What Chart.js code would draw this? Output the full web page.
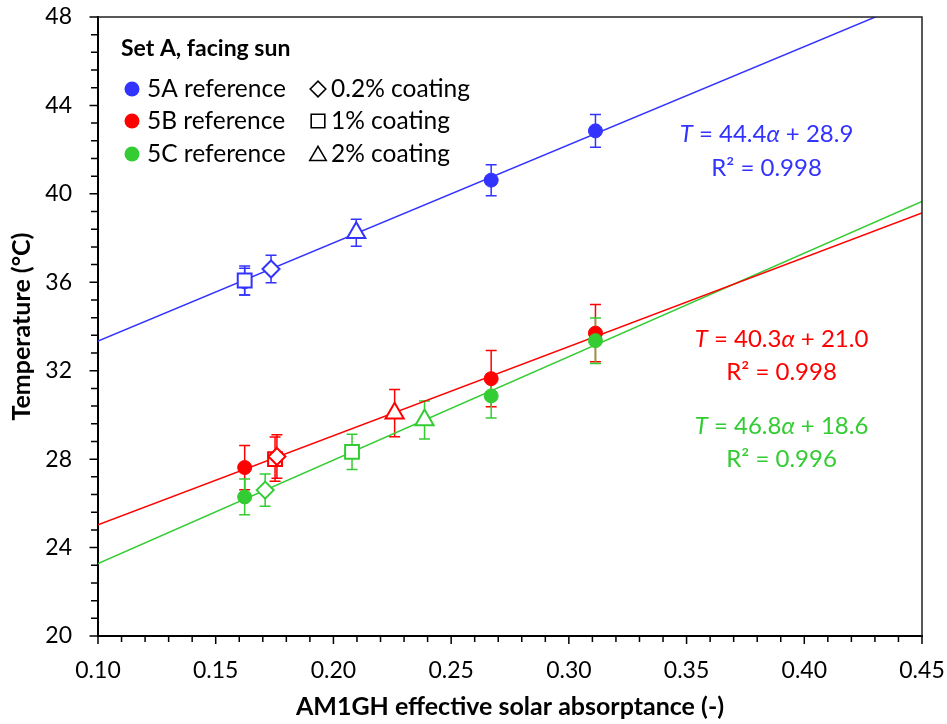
<!DOCTYPE html>
<html>
<head>
<meta charset="utf-8">
<script src="https://cdn.jsdelivr.net/npm/chart.js@4.4.1/dist/chart.umd.min.js"></script>
<style>
  html, body { margin: 0; padding: 0; background: #fff; }
  #wrap { width: 947px; height: 724px; }
</style>
</head>
<body>
<div id="wrap"><canvas id="c" width="947" height="724"></canvas></div>
<script>
// ---- data ----
const seriesNames = ['5A reference', '5B reference', '5C reference'];
const coatingNames = ['0.2% coating', '1% coating', '2% coating'];
const seriesColors = ['#3333ff', '#ff0000', '#33cc33'];

// uncoated reference panels: absorptance, temperature (°C), error (±°C)
const refAlpha = [[0.1623, 0.2670, 0.3113], [0.1623, 0.2670, 0.3113], [0.1623, 0.2670, 0.3113]];
const refTemp  = [[36.03, 40.62, 42.85], [27.62, 31.64, 33.70], [26.29, 30.86, 33.36]];
const refErr   = [[0.60, 0.70, 0.74], [1.00, 1.27, 1.30], [0.81, 1.00, 1.03]];

// coated panels, one value per set (5A, 5B, 5C)
const c02Alpha = [0.1735, 0.1760, 0.1710];
const c02Temp  = [36.60, 28.12, 26.60];
const c02Err   = [0.62, 0.98, 0.73];

const c1Alpha = [0.1623, 0.1752, 0.2079];
const c1Temp  = [36.08, 28.00, 28.33];
const c1Err   = [0.66, 1.00, 0.80];

const c2Alpha = [0.2097, 0.2260, 0.2387];
const c2Temp  = [38.24, 30.08, 29.77];
const c2Err   = [0.61, 1.07, 0.86];

// linear fits T = slope * alpha + intercept
const fitSlope     = [44.4, 40.3, 46.8];
const fitIntercept = [28.9, 21.0, 18.6];
const fitR2        = [0.998, 0.998, 0.996];

const xTicks = [0.10, 0.15, 0.20, 0.25, 0.30, 0.35, 0.40, 0.45];
const yTicks = [20, 24, 28, 32, 36, 40, 44, 48];

// ---- styling ----
const FONT = 'Lato';
Chart.defaults.font.family = FONT;
Chart.defaults.color = '#000';

const coatingStyles = [
  { alpha: c02Alpha, temp: c02Temp, err: c02Err, style: 'rectRot', radius: 8.5 },
  { alpha: c1Alpha,  temp: c1Temp,  err: c1Err,  style: 'rect',    radius: 9.8 },
  { alpha: c2Alpha,  temp: c2Temp,  err: c2Err,  style: 'triangle', radius: 10.5 }
];

const xMin = xTicks[0], xMax = xTicks[xTicks.length - 1];
const datasets = [];
for (let s = 0; s < 3; s++) {
  const col = seriesColors[s];
  datasets.push({
    label: 'fit ' + seriesNames[s],
    data: [xMin, xMax].map(a => ({ x: a, y: fitSlope[s] * a + fitIntercept[s] })),
    showLine: true, borderColor: col, borderWidth: 1.5, pointRadius: 0, order: 100
  });
  datasets.push({
    label: seriesNames[s],
    data: refAlpha[s].map((a, i) => ({ x: a, y: refTemp[s][i], err: refErr[s][i] })),
    errColor: col,
    pointStyle: 'circle', pointRadius: 7, backgroundColor: col, borderColor: col,
    borderWidth: 1, order: (3 - s) * 10 + 1
  });
  coatingStyles.forEach((c, k) => {
    datasets.push({
      label: seriesNames[s] + ' ' + coatingNames[k],
      data: [{ x: c.alpha[s], y: c.temp[s], err: c.err[s] }],
      errColor: col,
      pointStyle: c.style, pointRadius: c.radius, backgroundColor: '#ffffff',
      borderColor: col, borderWidth: 2, order: (3 - s) * 10
    });
  });
}

// error bars, drawn beneath the markers
const errorBars = {
  id: 'errorBars',
  beforeDatasetsDraw(chart) {
    const { ctx, chartArea: a } = chart;
    const xs = chart.scales.x, ys = chart.scales.y;
    ctx.save();
    ctx.beginPath();
    ctx.rect(a.left, a.top, a.right - a.left, a.bottom - a.top);
    ctx.clip();
    ctx.lineWidth = 1.5;
    chart.data.datasets.forEach(ds => {
      if (!ds.errColor) return;
      ctx.strokeStyle = ds.errColor;
      ds.data.forEach(p => {
        const px = xs.getPixelForValue(p.x);
        const y1 = ys.getPixelForValue(p.y + p.err);
        const y2 = ys.getPixelForValue(p.y - p.err);
        ctx.beginPath();
        ctx.moveTo(px, y1); ctx.lineTo(px, y2);
        ctx.moveTo(px - 5.5, y1); ctx.lineTo(px + 5.5, y1);
        ctx.moveTo(px - 5.5, y2); ctx.lineTo(px + 5.5, y2);
        ctx.stroke();
      });
    });
    ctx.restore();
  }
};

// outer frame plus major / minor tick marks
const frameTicks = {
  id: 'frameTicks',
  afterDraw(chart) {
    const { ctx, chartArea: a } = chart;
    const xs = chart.scales.x, ys = chart.scales.y;
    ctx.save();
    ctx.strokeStyle = '#222';
    ctx.lineWidth = 1.5;
    ctx.beginPath();
    ctx.moveTo(a.left, a.top); ctx.lineTo(a.right, a.top); ctx.lineTo(a.right, a.bottom);
    ctx.stroke();

    ctx.strokeStyle = '#000';
    ctx.lineWidth = 1.5;
    ctx.beginPath();
    for (let i = 0; i < xTicks.length; i++) {
      const px = xs.getPixelForValue(xTicks[i]);
      ctx.moveTo(px, a.bottom); ctx.lineTo(px, a.bottom + 8);
      if (i < xTicks.length - 1) {
        const step = (xTicks[i + 1] - xTicks[i]) / 5;
        for (let k = 1; k < 5; k++) {
          const mx = xs.getPixelForValue(xTicks[i] + k * step);
          ctx.moveTo(mx, a.bottom); ctx.lineTo(mx, a.bottom + 6);
        }
      }
    }
    for (let i = 0; i < yTicks.length; i++) {
      const py = ys.getPixelForValue(yTicks[i]);
      ctx.moveTo(a.left, py); ctx.lineTo(a.left - 8.5, py);
      if (i < yTicks.length - 1) {
        const step = (yTicks[i + 1] - yTicks[i]) / 5;
        for (let k = 1; k < 5; k++) {
          const my = ys.getPixelForValue(yTicks[i] + k * step);
          ctx.moveTo(a.left, my); ctx.lineTo(a.left - 7, my);
        }
      }
    }
    ctx.stroke();
    ctx.restore();
  }
};

function drawShape(ctx, style, x, y, r) {
  ctx.beginPath();
  if (style === 'circle') {
    ctx.arc(x, y, r, 0, Math.PI * 2);
  } else if (style === 'rectRot') {
    ctx.moveTo(x - r, y); ctx.lineTo(x, y - r); ctx.lineTo(x + r, y); ctx.lineTo(x, y + r); ctx.closePath();
  } else if (style === 'rect') {
    ctx.rect(x - r, y - r, 2 * r, 2 * r);
  } else if (style === 'triangle') {
    ctx.moveTo(x, y - r); ctx.lineTo(x + r * 1.08, y + r * 0.85); ctx.lineTo(x - r * 1.08, y + r * 0.85); ctx.closePath();
  }
}

// mixed italic / upright text, centred on cx
function drawRich(ctx, parts, cx, cy, size, color) {
  const fonts = parts.map(p => (p[1] ? 'italic ' : '') + size + 'px ' + FONT);
  let w = 0;
  parts.forEach((p, i) => { ctx.font = fonts[i]; w += ctx.measureText(p[0]).width; });
  let x = cx - w / 2;
  ctx.fillStyle = color;
  ctx.textAlign = 'left';
  ctx.textBaseline = 'middle';
  parts.forEach((p, i) => { ctx.font = fonts[i]; ctx.fillText(p[0], x, cy); x += ctx.measureText(p[0]).width; });
}

const eqPositions = [[766.5, 134, 168], [781.5, 339, 372], [781.5, 426, 459]];

const annotations = {
  id: 'annotations',
  afterDraw(chart) {
    const { ctx } = chart;
    ctx.save();
    // legend box text
    ctx.fillStyle = '#000';
    ctx.textAlign = 'left';
    ctx.textBaseline = 'middle';
    ctx.font = 'bold 23px ' + FONT;
    ctx.fillText('Set A, facing sun', 121, 49);
    const rows = [89, 121, 154];
    const legendShapes = ['rectRot', 'rect', 'triangle'];
    const legendR = [7.8, 6.8, 7.6];
    for (let i = 0; i < 3; i++) {
      ctx.fillStyle = seriesColors[i];
      drawShape(ctx, 'circle', 132, rows[i], 7.5);
      ctx.fill();
      ctx.strokeStyle = '#000';
      ctx.lineWidth = 1.6;
      drawShape(ctx, legendShapes[i], 318, rows[i], legendR[i]);
      ctx.stroke();
      ctx.fillStyle = '#000';
      ctx.font = '24.5px ' + FONT;
      ctx.fillText(seriesNames[i], 147, rows[i]);
      ctx.fillText(coatingNames[i], 331, rows[i]);
    }
    // fit equations
    for (let s = 0; s < 3; s++) {
      const [cx, y1, y2] = eqPositions[s];
      drawRich(ctx, [['T', true], [' = ' + fitSlope[s].toFixed(1), false], ['α', true],
        [' + ' + fitIntercept[s].toFixed(1), false]], cx, y1, 24, seriesColors[s]);
      drawRich(ctx, [['R² = ' + fitR2[s].toFixed(3), false]], cx, y2, 24, seriesColors[s]);
    }
    ctx.restore();
  }
};

new Chart(document.getElementById('c'), {
  type: 'scatter',
  data: { datasets },
  options: {
    responsive: false,
    animation: false,
    layout: { padding: { left: 0, right: 25, top: 17, bottom: 0 } },
    plugins: { legend: { display: false }, tooltip: { enabled: false } },
    scales: {
      x: {
        type: 'linear', min: xMin, max: xMax,
        afterBuildTicks: s => { s.ticks = xTicks.map(v => ({ value: v })); },
        afterFit: s => { s.height = 88; s.paddingLeft = 0; s.paddingRight = 0; },
        ticks: { callback: v => Number(v).toFixed(2), font: { size: 23 }, color: '#000', padding: 21, maxRotation: 0 },
        grid: { display: false, drawTicks: false },
        border: { display: true, color: '#000', width: 2 },
        title: { display: true, text: 'AM1GH effective solar absorptance (-)', color: '#000',
                 font: { size: 25, weight: 'bold', lineHeight: 1.2 }, padding: { top: 0, bottom: 2 } }
      },
      y: {
        type: 'linear', min: yTicks[0], max: yTicks[yTicks.length - 1],
        afterBuildTicks: s => { s.ticks = yTicks.map(v => ({ value: v })); },
        afterFit: s => { s.width = 98; s.paddingTop = 0; s.paddingBottom = 0; },
        ticks: { font: { size: 23 }, color: '#000', padding: 26 },
        grid: { display: false, drawTicks: false },
        border: { display: true, color: '#000', width: 2 },
        title: { display: true, text: 'Temperature (°C)', color: '#000',
                 font: { size: 25, weight: 'bold', lineHeight: 1.2 }, padding: { top: 7, bottom: 0 } }
      }
    }
  },
  plugins: [errorBars, frameTicks, annotations]
});
</script>
</body>
</html>
